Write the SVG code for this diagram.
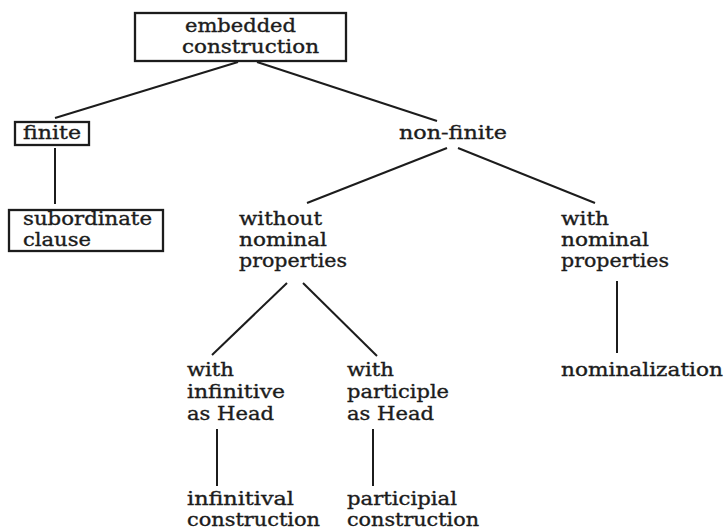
<svg xmlns="http://www.w3.org/2000/svg" width="726" height="530" viewBox="0 0 726 530">
<style>
.t{font-family:"DejaVu Serif","Liberation Serif",serif;font-size:18px;fill:#1c1c1c;stroke:#1c1c1c;stroke-width:0.35}
.b{fill:none;stroke:#1c1c1c;stroke-width:2.3}
.c line{stroke:#1c1c1c;stroke-width:2}
</style>
<rect width="726" height="530" fill="#fff"/>
<g id="connectors" class="c">
<line x1="238" y1="62" x2="55" y2="118"/>
<line x1="257" y1="62" x2="437" y2="121"/>
<line x1="55" y1="148" x2="55" y2="204"/>
<line x1="447" y1="148" x2="307" y2="203"/>
<line x1="458" y1="148" x2="595" y2="203"/>
<line x1="287" y1="283" x2="212" y2="355"/>
<line x1="303" y1="283" x2="377" y2="356"/>
<line x1="617" y1="281" x2="617" y2="353"/>
<line x1="217" y1="429" x2="217" y2="486"/>
<line x1="373" y1="429" x2="373" y2="486"/>
</g>
<g id="embedded-construction">
<rect class="b" x="135" y="13" width="211" height="48"/>
<text class="t" x="185" y="32" textLength="111" lengthAdjust="spacingAndGlyphs">embedded</text>
<text class="t" x="182" y="53" textLength="137" lengthAdjust="spacingAndGlyphs">construction</text>
</g>
<g id="finite">
<rect class="b" x="15" y="122" width="74" height="23"/>
<text class="t" x="23" y="139" textLength="58" lengthAdjust="spacingAndGlyphs">finite</text>
</g>
<g id="non-finite">
<text class="t" x="399" y="139" textLength="108" lengthAdjust="spacingAndGlyphs">non-finite</text>
</g>
<g id="subordinate-clause">
<rect class="b" x="9" y="210" width="154" height="41"/>
<text class="t" x="23" y="225" textLength="129" lengthAdjust="spacingAndGlyphs">subordinate</text>
<text class="t" x="23" y="246" textLength="68" lengthAdjust="spacingAndGlyphs">clause</text>
</g>
<g id="without-nominal">
<text class="t" x="239" y="225" textLength="83" lengthAdjust="spacingAndGlyphs">without</text>
<text class="t" x="239" y="246" textLength="88" lengthAdjust="spacingAndGlyphs">nominal</text>
<text class="t" x="239" y="267" textLength="108" lengthAdjust="spacingAndGlyphs">properties</text>
</g>
<g id="with-nominal">
<text class="t" x="561" y="225" textLength="48" lengthAdjust="spacingAndGlyphs">with</text>
<text class="t" x="561" y="246" textLength="88" lengthAdjust="spacingAndGlyphs">nominal</text>
<text class="t" x="561" y="267" textLength="108" lengthAdjust="spacingAndGlyphs">properties</text>
</g>
<g id="nominalization">
<text class="t" x="561" y="376" textLength="162" lengthAdjust="spacingAndGlyphs">nominalization</text>
</g>
<g id="with-infinitive">
<text class="t" x="187" y="376" textLength="47" lengthAdjust="spacingAndGlyphs">with</text>
<text class="t" x="187" y="398" textLength="98" lengthAdjust="spacingAndGlyphs">infinitive</text>
<text class="t" x="187" y="420" textLength="87" lengthAdjust="spacingAndGlyphs">as Head</text>
</g>
<g id="with-participle">
<text class="t" x="347" y="376" textLength="47" lengthAdjust="spacingAndGlyphs">with</text>
<text class="t" x="347" y="398" textLength="102" lengthAdjust="spacingAndGlyphs">participle</text>
<text class="t" x="347" y="420" textLength="87" lengthAdjust="spacingAndGlyphs">as Head</text>
</g>
<g id="infinitival-construction">
<text class="t" x="187" y="505" textLength="107" lengthAdjust="spacingAndGlyphs">infinitival</text>
<text class="t" x="187" y="526" textLength="133" lengthAdjust="spacingAndGlyphs">construction</text>
</g>
<g id="participial-construction">
<text class="t" x="347" y="505" textLength="110" lengthAdjust="spacingAndGlyphs">participial</text>
<text class="t" x="347" y="526" textLength="132" lengthAdjust="spacingAndGlyphs">construction</text>
</g>
</svg>
